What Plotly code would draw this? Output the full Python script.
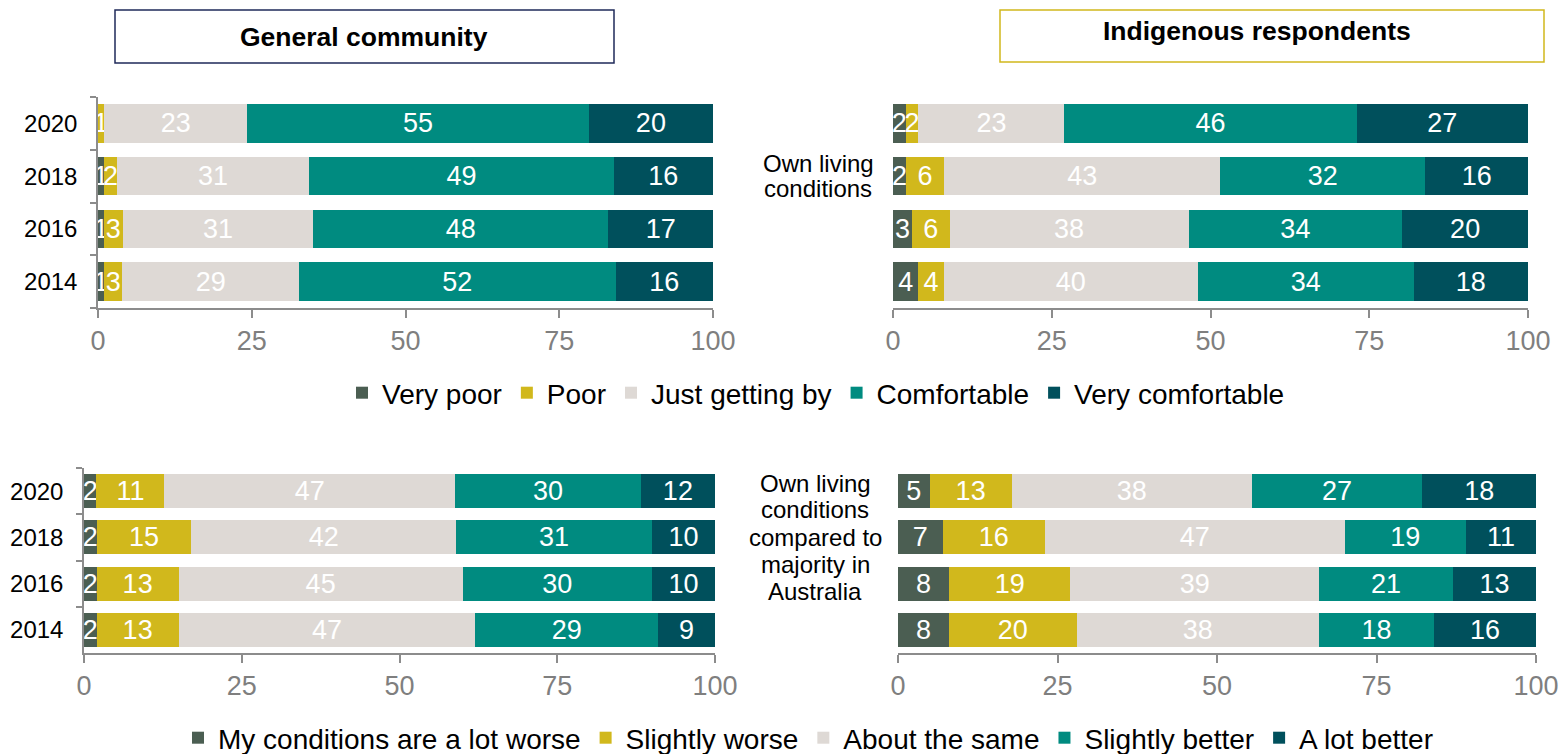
import plotly.graph_objects as go

FONT = "Liberation Sans, Arial, sans-serif"

years = ["2014", "2016", "2018", "2020"]

living_names = ["Very poor", "Poor", "Just getting by", "Comfortable", "Very comfortable"]
compare_names = ["My conditions are a lot worse", "Slightly worse", "About the same",
                 "Slightly better", "A lot better"]
colors = ["#4b5e52", "#d1b81c", "#ded9d5", "#008b80", "#00505c"]

# General community - own living conditions (2014, 2016, 2018, 2020)
gen_very_poor = [1, 1, 1, 0]
gen_poor = [3, 3, 2, 1]
gen_getting_by = [29, 31, 31, 23]
gen_comfortable = [52, 48, 49, 55]
gen_very_comfortable = [16, 17, 16, 20]

# Indigenous respondents - own living conditions
ind_very_poor = [4, 3, 2, 2]
ind_poor = [4, 6, 6, 2]
ind_getting_by = [40, 38, 43, 23]
ind_comfortable = [34, 34, 32, 46]
ind_very_comfortable = [18, 20, 16, 27]

# General community - compared to majority
gen_lot_worse = [2, 2, 2, 2]
gen_slightly_worse = [13, 13, 15, 11]
gen_same = [47, 45, 42, 47]
gen_slightly_better = [29, 30, 31, 30]
gen_lot_better = [9, 10, 10, 12]

# Indigenous respondents - compared to majority
ind_lot_worse = [8, 8, 7, 5]
ind_slightly_worse = [20, 19, 16, 13]
ind_same = [38, 39, 47, 38]
ind_slightly_better = [18, 21, 19, 27]
ind_lot_better = [16, 13, 11, 18]

x_ticks = [0, 25, 50, 75, 100]

top_label_lines = ["Own living", "conditions"]
bottom_label_lines = ["Own living", "conditions", "compared to", "majority in", "Australia"]

W, H = 1568, 754
OFF = 8  # page body margin offset


def px_x(p):
    return (p - OFF) / W


def px_y(p):
    return 1 - (p - OFF) / H


panels = [
    ([gen_very_poor, gen_poor, gen_getting_by, gen_comfortable, gen_very_comfortable],
     living_names, "", "legend"),
    ([ind_very_poor, ind_poor, ind_getting_by, ind_comfortable, ind_very_comfortable],
     living_names, "2", None),
    ([gen_lot_worse, gen_slightly_worse, gen_same, gen_slightly_better, gen_lot_better],
     compare_names, "3", "legend2"),
    ([ind_lot_worse, ind_slightly_worse, ind_same, ind_slightly_better, ind_lot_better],
     compare_names, "4", None),
]

fig = go.Figure()
for series, names, sfx, leg in panels:
    for vals, name, col in zip(series, names, colors):
        fig.add_trace(go.Bar(
            x=vals, y=years, orientation="h", name=name,
            marker=dict(color=col, line=dict(width=0)),
            text=[str(v) if v else "" for v in vals],
            texttemplate="%{text}",
            textposition="inside", insidetextanchor="middle",
            constraintext="none", textangle=0,
            textfont=dict(color="white", size=27, family=FONT),
            xaxis="x" + sfx, yaxis="y" + sfx,
            showlegend=leg is not None,
            legend=leg if leg else "legend",
            hoverinfo="skip",
        ))

axis_col = "#8c8c8c"
xcommon = dict(range=[0, 100], tickvals=x_ticks, ticks="outside", ticklen=8,
               tickcolor=axis_col, tickwidth=1.5, showline=True, linecolor=axis_col,
               linewidth=1.5, showgrid=False, zeroline=False, automargin=False,
               tickfont=dict(size=27, color="#7f7f7f", family=FONT))


def ycommon(show_labels):
    d = dict(type="category", categoryorder="array", categoryarray=years,
             showgrid=False, zeroline=False, fixedrange=True, automargin=False)
    if show_labels:
        d.update(showticklabels=True, showline=True, linecolor=axis_col, linewidth=1.5,
                 ticks="outside", ticklen=6, tickcolor=axis_col, tickwidth=1.5,
                 tickson="boundaries", ticklabelstandoff=14,
                 tickfont=dict(size=24, color="black", family=FONT))
    else:
        d.update(showticklabels=False, showline=False, ticks="")
    return d


top_y = [px_y(308), px_y(97)]
bot_y = [px_y(653), px_y(468)]

annotations = [
    dict(text="<b>General community</b>", xref="paper", yref="paper",
         x=px_x(364), y=px_y(37), xanchor="center", yanchor="middle", showarrow=False,
         font=dict(size=26.5, color="black", family=FONT)),
    dict(text="<b>Indigenous respondents</b>", xref="paper", yref="paper",
         x=px_x(1257), y=px_y(31), xanchor="center", yanchor="middle", showarrow=False,
         font=dict(size=26.5, color="black", family=FONT)),
]
for i, line in enumerate(top_label_lines):
    annotations.append(dict(text=line, xref="paper", yref="paper",
                            x=px_x(818), y=px_y(163 + 26 * i), xanchor="center",
                            yanchor="middle", showarrow=False,
                            font=dict(size=24, color="black", family=FONT)))
for i, line in enumerate(bottom_label_lines):
    annotations.append(dict(text=line, xref="paper", yref="paper",
                            x=px_x(815), y=px_y(483 + 27 * i), xanchor="center",
                            yanchor="middle", showarrow=False,
                            font=dict(size=24, color="black", family=FONT)))

fig.update_layout(
    width=W, height=H,
    margin=dict(l=0, r=0, t=0, b=0, pad=0, autoexpand=False),
    paper_bgcolor="white", plot_bgcolor="white",
    barmode="stack", barnorm="percent", bargap=0.27,
    uniformtext=dict(minsize=27, mode="show"),
    font=dict(family=FONT, color="black"),
    xaxis=dict(domain=[px_x(98), px_x(713)], anchor="y", **xcommon),
    yaxis=dict(domain=top_y, anchor="x", **ycommon(True)),
    xaxis2=dict(domain=[px_x(893), px_x(1528)], anchor="y2", **xcommon),
    yaxis2=dict(domain=top_y, anchor="x2", **ycommon(False)),
    xaxis3=dict(domain=[px_x(84), px_x(715)], anchor="y3", **xcommon),
    yaxis3=dict(domain=bot_y, anchor="x3", **ycommon(True)),
    xaxis4=dict(domain=[px_x(898), px_x(1536)], anchor="y4", **xcommon),
    yaxis4=dict(domain=bot_y, anchor="x4", **ycommon(False)),
    legend=dict(orientation="h", x=px_x(816), xanchor="center", y=px_y(393), yanchor="middle",
                font=dict(size=28, color="black", family=FONT), traceorder="normal",
                bgcolor="rgba(0,0,0,0)"),
    legend2=dict(orientation="h", x=px_x(808), xanchor="center", y=px_y(738), yanchor="middle",
                 font=dict(size=28, color="black", family=FONT), traceorder="normal",
                 bgcolor="rgba(0,0,0,0)"),
    shapes=[
        dict(type="rect", xref="paper", yref="paper",
             x0=px_x(115), x1=px_x(614), y0=px_y(63), y1=px_y(10),
             line=dict(color="#1f2a5a", width=1.5), fillcolor="rgba(0,0,0,0)"),
        dict(type="rect", xref="paper", yref="paper",
             x0=px_x(1000), x1=px_x(1544), y0=px_y(62), y1=px_y(10),
             line=dict(color="#d1b81c", width=1.5), fillcolor="rgba(0,0,0,0)"),
    ],
    annotations=annotations,
)

fig.write_html("out.html")
